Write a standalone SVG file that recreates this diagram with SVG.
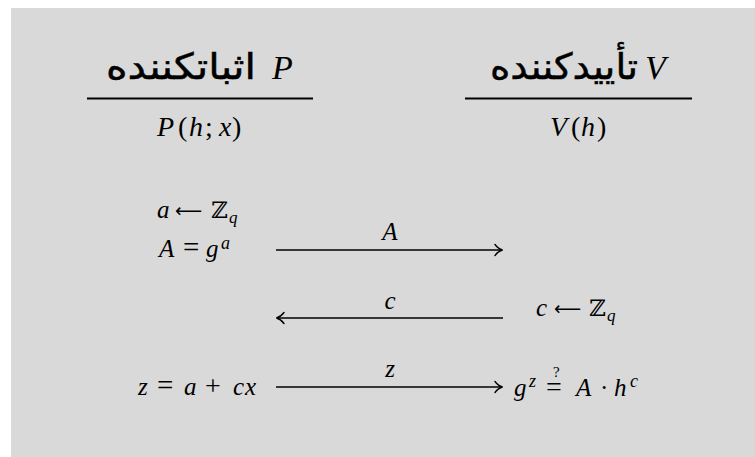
<svg xmlns="http://www.w3.org/2000/svg" width="755" height="457" viewBox="0 0 755 457">
<style>
.m{font-family:"Liberation Serif","Times New Roman",Times,serif;font-style:italic;font-size:25px;fill:#000}
.r{font-family:"Liberation Serif","Times New Roman",Times,serif;font-style:normal}
.ar{font-family:"DejaVu Sans",sans-serif;font-style:normal;font-size:19px}
.bb{font-family:"DejaVu Serif",serif;font-style:normal;font-size:23px}
.fa{font-family:"DejaVu Sans",sans-serif;font-size:36px;fill:#000;stroke:#000;stroke-width:0.5}
.hd{font-family:"Liberation Serif","Times New Roman",Times,serif;font-style:italic;font-size:34px;fill:#000}
.sub{font-family:"Liberation Serif","Times New Roman",Times,serif;font-style:italic;font-size:28px;fill:#000}
.rule{stroke:#000;stroke-width:2.2}
.arr{stroke:#000;stroke-width:1.7;fill:none}
</style>
<defs>
<marker id="tip" markerUnits="userSpaceOnUse" viewBox="-9 -7 11 14" refX="0" refY="0" markerWidth="11" markerHeight="14" orient="auto-start-reverse">
<path d="M-7,-5.5 C-4.5,-2.2 -2,-0.6 0.6,0 C-2,0.6 -4.5,2.2 -7,5.5" stroke="#000" stroke-width="1.4" fill="none" stroke-linecap="round"/>
</marker>
</defs>
<rect x="0" y="0" width="755" height="457" fill="#ffffff"/>
<rect x="11" y="8" width="744" height="449" fill="#d9d9d9"/>
<g id="prover">
<text class="fa" x="256" y="79" text-anchor="end" textLength="150" lengthAdjust="spacingAndGlyphs">اثباتکننده</text>
<text class="hd" x="272" y="79">P</text>
<line class="rule" x1="87" y1="98.5" x2="313" y2="98.5"/>
<text class="sub" y="136"><tspan x="157">P</tspan><tspan x="178" class="r">(</tspan><tspan x="189">h</tspan><tspan x="205" class="r">;</tspan><tspan x="219">x</tspan><tspan x="232" class="r">)</tspan></text>
<text class="m" y="218"><tspan x="157">a</tspan><tspan x="175" class="ar" dy="-1">⟵</tspan><tspan x="211" class="bb" dy="1">ℤ</tspan><tspan x="229" dy="5" font-size="17">q</tspan></text>
<text class="m" y="257"><tspan x="159">A</tspan><tspan x="183" class="r" font-size="29">=</tspan><tspan x="206">g</tspan><tspan x="221" dy="-8" font-size="18">a</tspan></text>
<text class="m" y="395"><tspan x="138">z</tspan><tspan x="157" class="r" font-size="29">=</tspan><tspan x="184">a</tspan><tspan x="205" class="r" font-size="28">+</tspan><tspan x="233">c</tspan><tspan x="245">x</tspan></text>
</g>
<g id="verifier">
<text class="fa" x="638" y="79" text-anchor="end" textLength="148" lengthAdjust="spacingAndGlyphs">تأییدکننده</text>
<text class="hd" x="645" y="79">V</text>
<line class="rule" x1="465" y1="98.5" x2="692" y2="98.5"/>
<text class="sub" y="136"><tspan x="550">V</tspan><tspan x="571" class="r">(</tspan><tspan x="581">h</tspan><tspan x="597" class="r">)</tspan></text>
<text class="m" y="316"><tspan x="536">c</tspan><tspan x="554" class="ar" dy="-1">⟵</tspan><tspan x="589" class="bb" dy="1">ℤ</tspan><tspan x="607" dy="5" font-size="17">q</tspan></text>
<text class="m" y="396"><tspan x="514">g</tspan><tspan x="529" dy="-9" font-size="18">z</tspan><tspan x="546" dy="9" class="r" font-size="28">=</tspan><tspan x="553" dy="-19" class="r" font-size="15">?</tspan><tspan x="576" dy="19">A</tspan><tspan x="600" class="r">·</tspan><tspan x="614">h</tspan><tspan x="630" dy="-9" font-size="18">c</tspan></text>
</g>
<g id="connectors">
<line class="arr" x1="276" y1="250" x2="502" y2="250" marker-end="url(#tip)"/>
<line class="arr" x1="503" y1="318" x2="277" y2="318" marker-end="url(#tip)"/>
<line class="arr" x1="276" y1="387" x2="502" y2="387" marker-end="url(#tip)"/>
<text class="m" x="390" y="240" text-anchor="middle">A</text>
<text class="m" x="390" y="309" text-anchor="middle">c</text>
<text class="m" x="390" y="377" text-anchor="middle">z</text>
</g>
</svg>
